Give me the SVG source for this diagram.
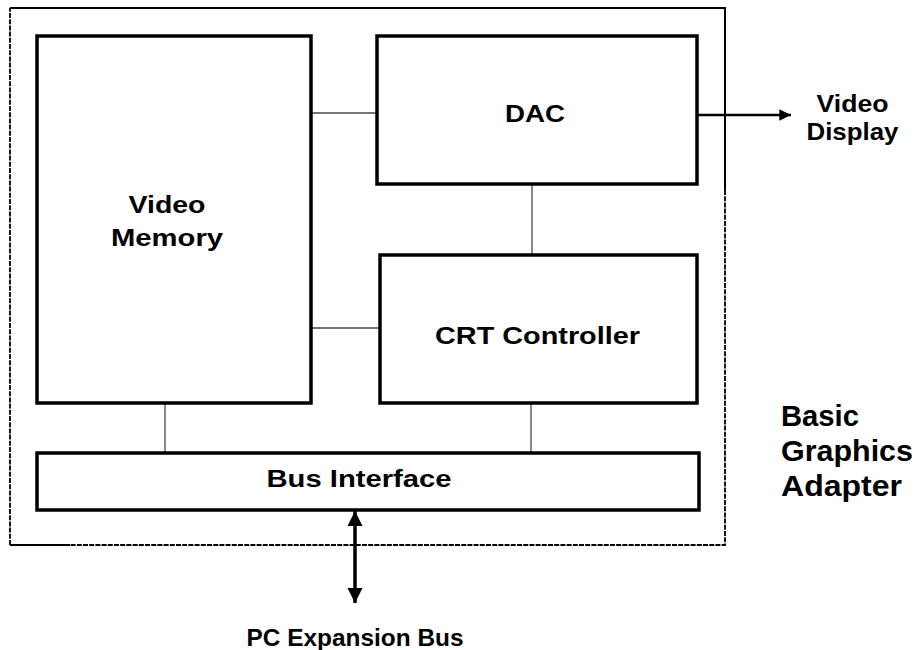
<svg xmlns="http://www.w3.org/2000/svg" width="920" height="650" viewBox="0 0 920 650">
  <style>
    .box { fill: #ffffff; stroke: #000000; stroke-width: 3.5; }
    .link { fill: none; stroke: #4a4a4a; stroke-width: 1.3; }
    .bold { stroke: #000000; fill: none; }
    .lbl { font-family: "Liberation Sans", Arial, sans-serif; font-weight: bold; font-size: 24px; fill: #000000; }
    .big { font-family: "Liberation Sans", Arial, sans-serif; font-weight: bold; font-size: 30px; fill: #000000; }
  </style>
  <defs>
    <marker id="head" viewBox="0 0 10 10" refX="10" refY="5" markerWidth="4.5" markerHeight="4.5" markerUnits="strokeWidth" orient="auto-start-reverse">
      <path d="M0,0 L10,5 L0,10 Z" fill="#000000"/>
    </marker>
    <marker id="headWide" viewBox="0 0 10 10" refX="10" refY="5" markerWidth="4.4" markerHeight="5" markerUnits="strokeWidth" orient="auto-start-reverse">
      <path d="M0,0 L10,5 L0,10 Z" fill="#000000"/>
    </marker>
  </defs>
  <rect width="920" height="650" fill="#ffffff"/>

  <!-- adapter boundary -->
  <g id="adapter">
    <path d="M10,8 H725 V190" fill="none" stroke="#000" stroke-width="2"/>
    <path d="M725,190 V545 H70" fill="none" stroke="#000" stroke-width="1.8" stroke-dasharray="5 1.2"/>
    <path d="M70,545 H10" fill="none" stroke="#000" stroke-width="1.8"/>
    <path d="M10,545 V8" fill="none" stroke="#000" stroke-width="1.8" stroke-dasharray="5 1.2"/>
    <text class="big" x="781" y="426" textLength="78" lengthAdjust="spacingAndGlyphs">Basic</text>
    <text class="big" x="781" y="461" textLength="132" lengthAdjust="spacingAndGlyphs">Graphics</text>
    <text class="big" x="781" y="496" textLength="121" lengthAdjust="spacingAndGlyphs">Adapter</text>
  </g>

  <!-- connectors -->
  <g id="connectors">
    <line class="link" x1="311" y1="113" x2="377" y2="113"/>
    <line class="link" x1="311" y1="328" x2="380" y2="328"/>
    <line class="link" x1="532" y1="184" x2="532" y2="255"/>
    <line class="link" x1="165" y1="403" x2="165" y2="453"/>
    <line class="link" x1="531" y1="403" x2="531" y2="453"/>
    <line class="bold" x1="697" y1="115" x2="791" y2="115" stroke-width="2.6" marker-end="url(#head)"/>
    <line class="bold" x1="355" y1="511" x2="355" y2="603" stroke-width="3.5" marker-start="url(#headWide)" marker-end="url(#headWide)"/>
  </g>

  <g id="video-memory">
    <rect class="box" x="37" y="36" width="274" height="367"/>
    <text class="lbl" x="167" y="213" text-anchor="middle" textLength="77" lengthAdjust="spacingAndGlyphs">Video</text>
    <text class="lbl" x="167" y="246" text-anchor="middle" textLength="112" lengthAdjust="spacingAndGlyphs">Memory</text>
  </g>

  <g id="dac">
    <rect class="box" x="377" y="36" width="320" height="148"/>
    <text class="lbl" x="535" y="122" text-anchor="middle" textLength="60" lengthAdjust="spacingAndGlyphs">DAC</text>
  </g>

  <g id="crt-controller">
    <rect class="box" x="380" y="255" width="317" height="148"/>
    <text class="lbl" x="537.5" y="344" text-anchor="middle" textLength="205" lengthAdjust="spacingAndGlyphs">CRT Controller</text>
  </g>

  <g id="bus-interface">
    <rect class="box" x="37" y="453" width="662" height="57"/>
    <text class="lbl" x="359" y="487" text-anchor="middle" textLength="185" lengthAdjust="spacingAndGlyphs">Bus Interface</text>
  </g>

  <g id="video-display">
    <text class="lbl" x="852.5" y="112" text-anchor="middle" textLength="72" lengthAdjust="spacingAndGlyphs">Video</text>
    <text class="lbl" x="852.5" y="140" text-anchor="middle" textLength="92" lengthAdjust="spacingAndGlyphs">Display</text>
  </g>

  <g id="pc-expansion-bus">
    <text class="lbl" x="355" y="646" text-anchor="middle" textLength="217" lengthAdjust="spacingAndGlyphs">PC Expansion Bus</text>
  </g>
</svg>
